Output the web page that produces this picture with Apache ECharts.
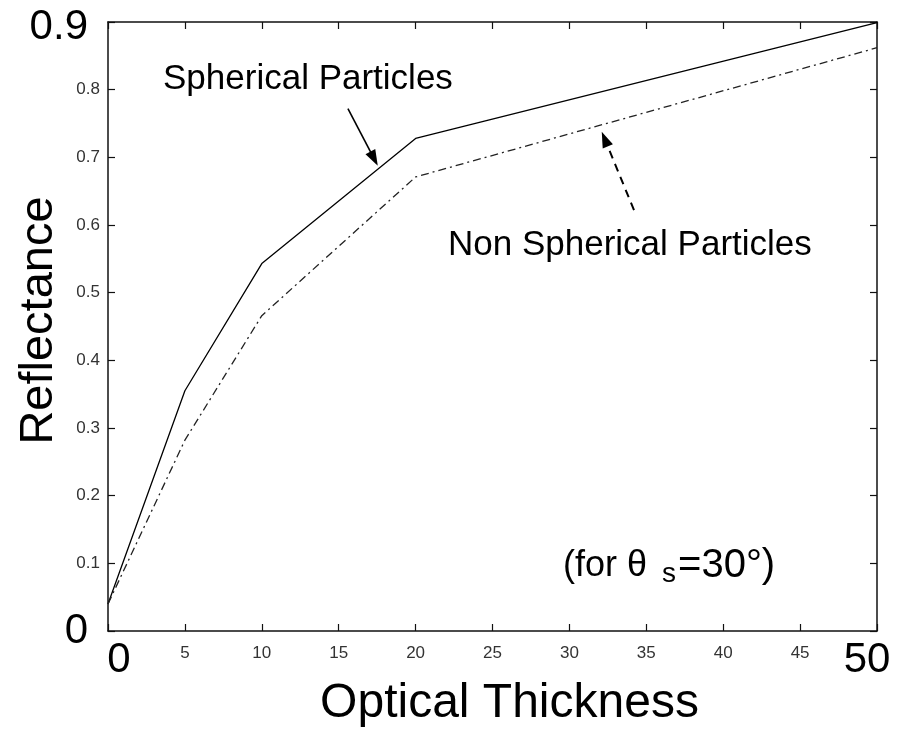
<!DOCTYPE html>
<html>
<head>
<meta charset="utf-8">
<script src="https://cdn.jsdelivr.net/npm/echarts@6/dist/echarts.min.js"></script>
<style>
  html, body { margin: 0; padding: 0; background: #ffffff; }
  #chart { width: 903px; height: 730px; }
</style>
</head>
<body>
<div id="chart"></div>
<script>
// Optical thickness samples and the reflectance computed for each particle shape
const opticalThickness = [0, 5, 10, 20, 50];
const sphericalReflectance = [0.04, 0.355, 0.543, 0.728, 0.899];
const nonSphericalReflectance = [0.04, 0.282, 0.466, 0.671, 0.862];

// Tick values shown along each axis
const xTicks = [0, 5, 10, 15, 20, 25, 30, 35, 40, 45, 50];
const yTicks = [0, 0.1, 0.2, 0.3, 0.4, 0.5, 0.6, 0.7, 0.8, 0.9];

// Annotation arrows, given in data coordinates: [from, to]
const sphericalArrow = [[15.6, 0.772], [17.3, 0.698]];
const nonSphericalArrow = [[34.2, 0.622], [32.3, 0.727]];

const FONT = '"Liberation Sans", Arial, Helvetica, sans-serif';
const xMin = xTicks[0], xMax = xTicks[xTicks.length - 1];
const yMin = yTicks[0], yMax = yTicks[yTicks.length - 1];

const chart = echarts.init(document.getElementById('chart'), null, { renderer: 'canvas' });

function pairs(xs, ys) { return xs.map((x, i) => [x, ys[i]]); }

// Fresh style objects for every axis (box frame with inward ticks)
function axisLine() { return { onZero: false, lineStyle: { color: '#111', width: 1.5 } }; }
function axisTick() { return { inside: true, length: 7, lineStyle: { color: '#111', width: 1.2 } }; }
function smallLabel() { return { fontFamily: FONT, fontSize: 17, color: '#333' }; }

const option = {
  animation: false,
  backgroundColor: '#ffffff',
  grid: { left: 108, right: 26, top: 22, bottom: 99, containLabel: false, outerBoundsMode: 'none' },
  xAxis: [{
    type: 'value', min: xMin, max: xMax, interval: 5, position: 'bottom',
    axisLine: axisLine(), axisTick: axisTick(), splitLine: { show: false },
    axisLabel: Object.assign(smallLabel(), {
      margin: 14,
      formatter: v => {
        if (v === xMin) return '{b0|' + v + '}';
        if (v === xMax) return '{b50|' + v + '}';
        return String(v);
      },
      rich: {
        b0: { fontFamily: FONT, fontSize: 42, lineHeight: 30, color: '#000', padding: [1, 0, 0, 22] },
        b50: { fontFamily: FONT, fontSize: 42, lineHeight: 30, color: '#000', padding: [1, 20, 0, 0] }
      }
    }),
    name: 'Optical Thickness', nameLocation: 'middle', nameGap: 49, nameMoveOverlap: false,
    nameTextStyle: { fontFamily: FONT, fontSize: 48, color: '#000', padding: [0, 0, 0, 34] }
  }, {
    type: 'value', min: xMin, max: xMax, interval: 5, position: 'top',
    axisLine: axisLine(), axisTick: axisTick(), splitLine: { show: false },
    axisLabel: { show: false }
  }],
  yAxis: [{
    type: 'value', min: yMin, max: yMax, interval: 0.1, position: 'left',
    axisLine: axisLine(), axisTick: axisTick(), splitLine: { show: false },
    axisLabel: Object.assign(smallLabel(), {
      margin: 8,
      formatter: v => {
        const t = v.toFixed(1);
        if (Math.abs(v - yMin) < 1e-9) return '{big0|0}';
        if (Math.abs(v - yMax) < 1e-9) return '{bigTop|' + t + '}';
        return t;
      },
      rich: {
        big0: { fontFamily: FONT, fontSize: 42, color: '#000', padding: [0, 12, 0, 0] },
        bigTop: { fontFamily: FONT, fontSize: 42, color: '#000', padding: [10, 12, 0, 0] }
      }
    }),
    name: 'Reflectance', nameLocation: 'middle', nameGap: 45, nameRotate: 90, nameMoveOverlap: false,
    nameTextStyle: { fontFamily: FONT, fontSize: 47, color: '#000', padding: [0, 0, 0, 12] }
  }, {
    type: 'value', min: yMin, max: yMax, interval: 0.1, position: 'right',
    axisLine: axisLine(), axisTick: axisTick(), splitLine: { show: false },
    axisLabel: { show: false }
  }],
  series: [{
    name: 'Spherical Particles',
    type: 'line',
    data: pairs(opticalThickness, sphericalReflectance),
    showSymbol: false,
    lineStyle: { color: '#000', width: 1.3 },
    markLine: {
      silent: true, animation: false,
      label: { show: false },
      lineStyle: { color: '#000', width: 1.6, type: 'solid' },
      data: [[
        { coord: sphericalArrow[0], symbol: 'none' },
        { coord: sphericalArrow[1], symbol: 'triangle', symbolSize: [11, 16] }
      ]]
    }
  }, {
    name: 'Non Spherical Particles',
    type: 'line',
    data: pairs(opticalThickness, nonSphericalReflectance),
    showSymbol: false,
    lineStyle: { color: '#222', width: 1.3, type: [8, 4, 2, 4] },
    markLine: {
      silent: true, animation: false,
      label: { show: false },
      lineStyle: { color: '#000', width: 2, type: [8, 6] },
      data: [[
        { coord: nonSphericalArrow[0], symbol: 'none' },
        { coord: nonSphericalArrow[1], symbol: 'triangle', symbolSize: [11, 16] }
      ]]
    }
  }],
  graphic: [{
    type: 'text', left: 163, top: 62,
    style: { text: 'Spherical Particles', font: '35px ' + FONT, fill: '#000' }
  }, {
    type: 'text', left: 448, top: 228,
    style: { text: 'Non Spherical Particles', font: '35px ' + FONT, fill: '#000' }
  }, {
    type: 'text', left: 563, top: 546,
    style: {
      text: '{a|(for θ}{s|s}{b|=30°)}',
      rich: {
        a: { fontFamily: FONT, fontSize: 36, lineHeight: 44, fill: '#000', verticalAlign: 'middle' },
        s: { fontFamily: FONT, fontSize: 28, lineHeight: 16, fill: '#000', verticalAlign: 'bottom', padding: [0, 2, 0, 15] },
        b: { fontFamily: FONT, fontSize: 40, lineHeight: 44, fill: '#000', verticalAlign: 'middle' }
      }
    }
  }]
};

chart.setOption(option);
</script>
</body>
</html>
